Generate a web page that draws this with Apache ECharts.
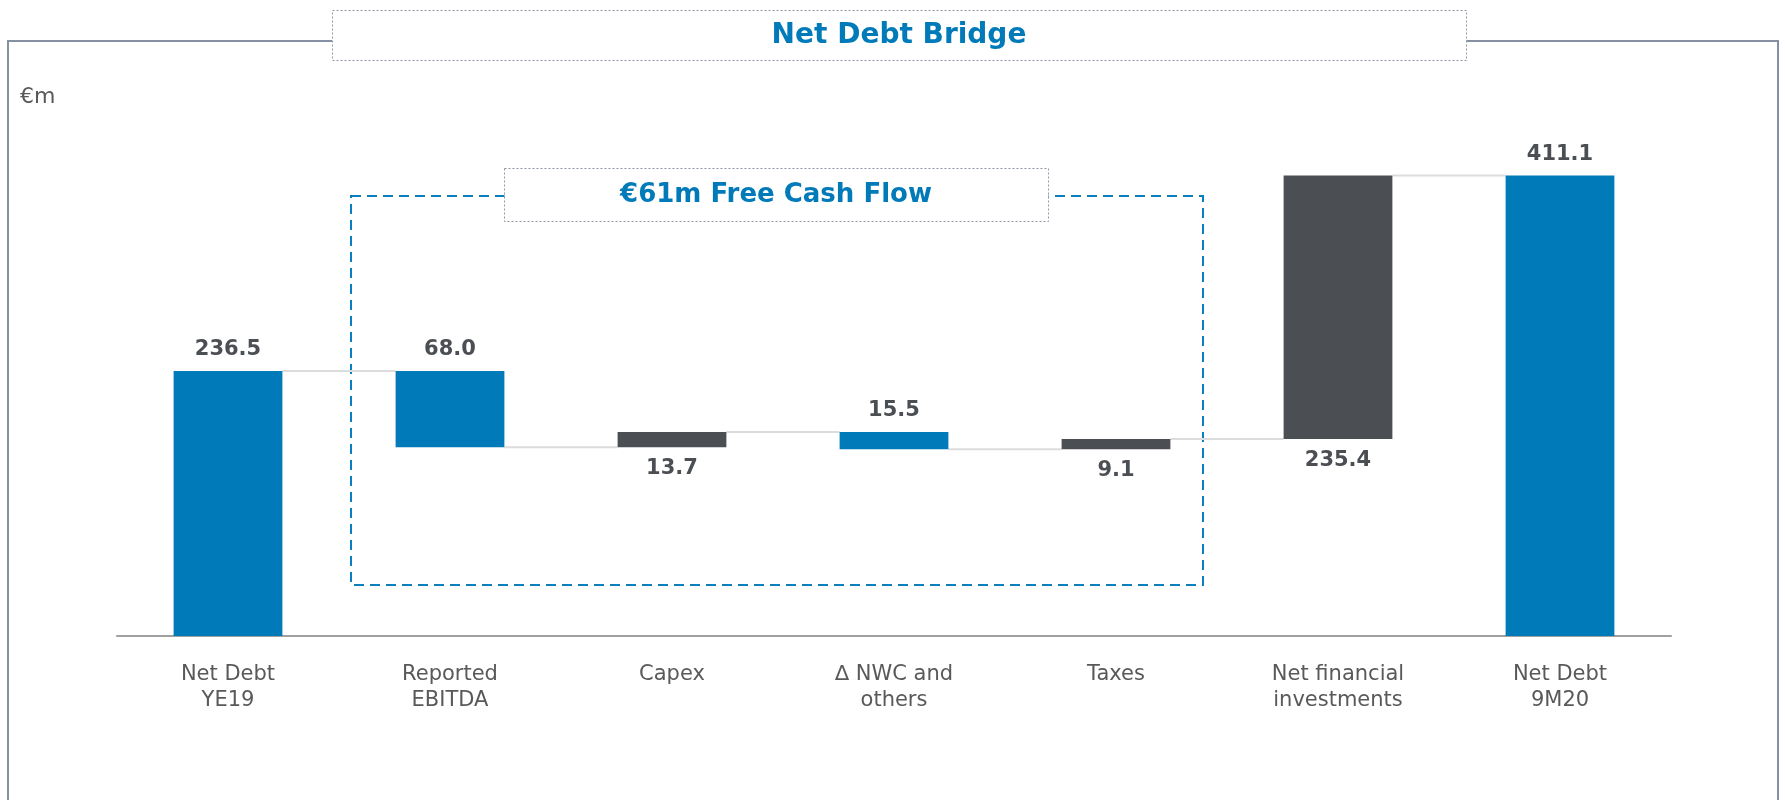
<html>
<head>
<meta charset="utf-8">
<script src="https://cdn.jsdelivr.net/npm/echarts@6/dist/echarts.min.js"></script>
<style>
  html, body { margin: 0; padding: 0; background: #fff; }
  #chartmain { width: 1785px; height: 800px; }
</style>
</head>
<body>
<div id="chartmain"></div>
<script type="text/javascript">
    // data
    var categories = ['Net Debt\nYE19', 'Reported\nEBITDA', 'Capex', '\u2206 NWC and\nothers', 'Taxes', 'Net financial\ninvestments', 'Net Debt\n9M20'];
    var amounts = [236.5, 68.0, 13.7, 15.5, 9.1, 235.4, 411.1];
    var kinds = ['total', 'down', 'up', 'down', 'up', 'up', 'total'];

    var BLUE = '#007AB8';
    var DARK = '#4B4E53';
    var barRatio = 0.49;

    // build waterfall pieces from the running total
    var base = [], height = [], connectors = [];
    var running = 0;
    for (var i = 0; i < amounts.length; i++) {
        var a = amounts[i];
        if (kinds[i] == 'total') {
            base.push(0); running = a;
        } else if (kinds[i] == 'down') {
            base.push(running - a); running = running - a;
        } else {
            base.push(running); running = running + a;
        }
        height.push(a);
        if (i < amounts.length - 1) connectors.push([i, running]);
    }

    var barData = [];
    for (var i = 0; i < amounts.length; i++) {
        var isBlue = kinds[i] != 'up';
        barData.push({
            value: height[i],
            itemStyle: { color: isBlue ? BLUE : DARK },
            label: { position: kinds[i] == 'up' ? 'bottom' : 'top' }
        });
    }

    var myChart = echarts.init(document.getElementById('chartmain'));
    var option = {
        animation: false,
        grid: { left: 117, right: 114, top: 132, bottom: 164 },
        xAxis: {
            type: 'category',
            data: categories,
            axisTick: { show: false },
            axisLine: { lineStyle: { color: '#a0a0a0', width: 2 } },
            axisLabel: {
                color: '#595959', fontSize: 21, fontFamily: 'DejaVu Sans',
                lineHeight: 26, margin: 26, interval: 0
            }
        },
        yAxis: {
            type: 'value', min: 0, max: 450,
            show: false,
            splitLine: { show: false }
        },
        series: [
            {
                type: 'bar', stack: 'wf', barWidth: '49%', silent: true,
                itemStyle: { color: 'transparent' },
                data: base
            },
            {
                type: 'bar', stack: 'wf', barWidth: '49%',
                label: {
                    show: true, distance: 11,
                    color: DARK, fontSize: 21, fontWeight: 'bold', fontFamily: 'DejaVu Sans',
                    formatter: function (p) { return amounts[p.dataIndex].toFixed(1); }
                },
                data: barData
            },
            {
                type: 'custom', silent: true, z: 1,
                renderItem: function (params, api) {
                    var i = api.value(0), level = api.value(1);
                    var p0 = api.coord([i, level]);
                    var p1 = api.coord([i + 1, level]);
                    var half = api.size([1, 0])[0] * barRatio / 2;
                    return {
                        type: 'line',
                        shape: { x1: p0[0] + half, y1: p0[1], x2: p1[0] - half, y2: p1[1] },
                        style: { stroke: '#dcdcdc', lineWidth: 2 }
                    };
                },
                data: connectors
            }
        ],
        graphic: [
            // outer frame
            { type: 'polyline', z: 0, shape: { points: [[8, 800], [8, 41], [332, 41]] }, style: { stroke: '#8591a3', lineWidth: 2, fill: null } },
            { type: 'polyline', z: 0, shape: { points: [[1466, 41], [1778, 41], [1778, 800]] }, style: { stroke: '#8591a3', lineWidth: 2, fill: null } },
            // title box
            { type: 'rect', z: 0, shape: { x: 332.5, y: 10.5, width: 1134, height: 50 }, style: { fill: '#fff', stroke: '#8c96a5', lineWidth: 1, lineDash: [2, 2] } },
            { type: 'text', z: 10, x: 899, y: 36, style: { text: 'Net Debt Bridge', fill: BLUE, font: 'bold 28px "DejaVu Sans"', align: 'center', verticalAlign: 'middle' } },
            // unit
            { type: 'text', x: 20, y: 97, style: { text: '\u20acm', fill: '#595959', font: '22px "DejaVu Sans"', verticalAlign: 'middle' } },
            // free cash flow dashed box
            { type: 'rect', z: 0, shape: { x: 351, y: 196, width: 852, height: 389 }, style: { fill: null, stroke: '#0a7fc0', lineWidth: 2, lineDash: [10, 6] } },
            { type: 'rect', z: 5, shape: { x: 504.5, y: 168.5, width: 544, height: 53 }, style: { fill: '#fff', stroke: '#8c96a5', lineWidth: 1, lineDash: [2, 2] } },
            { type: 'text', z: 10, x: 776, y: 195, style: { text: '\u20ac61m Free Cash Flow', fill: BLUE, font: 'bold 26px "DejaVu Sans"', align: 'center', verticalAlign: 'middle' } }
        ]
    };
    myChart.setOption(option);
</script>
</body>
</html>
